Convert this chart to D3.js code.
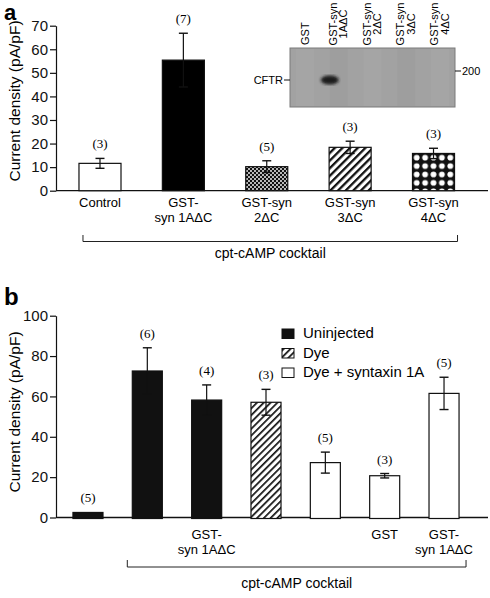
<!DOCTYPE html>
<html><head><meta charset="utf-8">
<script src="https://cdn.jsdelivr.net/npm/d3@7"></script>
<style>body{margin:0;background:#fff} svg{display:block}</style>
</head><body>
<svg id="chart" width="490" height="598"></svg>
<script>
// ---------- Panel a data ----------
const catsA = ["Control", "GST-syn 1AΔC", "GST-syn 2ΔC", "GST-syn 3ΔC", "GST-syn 4ΔC"];
const labelsA = [["Control"], ["GST-", "syn 1AΔC"], ["GST-syn", "2ΔC"], ["GST-syn", "3ΔC"], ["GST-syn", "4ΔC"]];
const valuesA = [11.6, 55.4, 10.2, 18.4, 15.8];
const errorsA = [2.1, 11.4, 2.5, 2.6, 2.2];
const nA = [3, 7, 5, 3, 3];
const fillsA = ["white", "black", "dots", "stripesA", "diamonds"];
const ticksA = [0, 10, 20, 30, 40, 50, 60, 70];
const lanes = [["GST"], ["GST-syn", "1AΔC"], ["GST-syn", "2ΔC"], ["GST-syn", "3ΔC"], ["GST-syn", "4ΔC"]];

// ---------- Panel b data ----------
const catsB = ["b1", "b2", "b3", "b4", "b5", "b6", "b7"];
const labelsB = [[], [], ["GST-", "syn 1AΔC"], [], [], ["GST"], ["GST-", "syn 1AΔC"]];
const valuesB = [2.5, 72.6, 58.2, 57.1, 27.2, 20.7, 61.5];
const errorsB = [0.3, 11.5, 7.5, 6.4, 5.2, 1.1, 8.0];
const nB = [5, 6, 4, 3, 5, 3, 5];
const groupB = ["Uninjected", "Uninjected", "Uninjected", "Dye", "Dye + syntaxin 1A", "Dye + syntaxin 1A", "Dye + syntaxin 1A"];
const legendB = ["Uninjected", "Dye", "Dye + syntaxin 1A"];
const ticksB = [0, 20, 40, 60, 80, 100];

const SANS = "'Liberation Sans', Arial, Helvetica, sans-serif";
const SERIF = "'Liberation Serif', 'Times New Roman', serif";

const svg = d3.select("#chart");
const defs = svg.append("defs");

// patterns
const pDots = defs.append("pattern").attr("id", "dots").attr("patternUnits", "userSpaceOnUse")
  .attr("width", 4).attr("height", 4);
pDots.append("rect").attr("width", 4).attr("height", 4).attr("fill", "#111");
pDots.append("circle").attr("cx", 1).attr("cy", 1).attr("r", 0.95).attr("fill", "#fff");
pDots.append("circle").attr("cx", 3).attr("cy", 3).attr("r", 0.95).attr("fill", "#fff");

const pStrA = defs.append("pattern").attr("id", "stripesA").attr("patternUnits", "userSpaceOnUse")
  .attr("width", 5.4).attr("height", 5.4).attr("patternTransform", "rotate(45)");
pStrA.append("rect").attr("width", 5.4).attr("height", 5.4).attr("fill", "#fff");
pStrA.append("rect").attr("width", 2.3).attr("height", 5.4).attr("fill", "#111");

const pStrB = defs.append("pattern").attr("id", "stripesB").attr("patternUnits", "userSpaceOnUse")
  .attr("width", 4.8).attr("height", 4.8).attr("patternTransform", "rotate(45)");
pStrB.append("rect").attr("width", 4.8).attr("height", 4.8).attr("fill", "#fff");
pStrB.append("rect").attr("width", 1.7).attr("height", 4.8).attr("fill", "#111");

defs.append("filter").attr("id", "blur").append("feGaussianBlur").attr("stdDeviation", 1.6);
defs.append("filter").attr("id", "blur2").append("feGaussianBlur").attr("stdDeviation", 0.6);

function multiText(g, x, y, lines, lh, font) {
  lines.forEach((l, j) => g.append("text").attr("x", x).attr("y", y + j * lh)
    .attr("text-anchor", "middle").style("font", font).text(l));
}

// ================= PANEL A =================
const ya = d3.scaleLinear().domain([0, 70]).range([190.7, 25.7]);
const xa = d3.scaleBand().domain(catsA).range([58.3, 475.2]).paddingInner(0.496).paddingOuter(0.248);

const dX = xa(catsA[4]);
const pDia = defs.append("pattern").attr("id", "diamonds").attr("patternUnits", "userSpaceOnUse")
  .attr("x", dX).attr("y", ya(valuesA[4])).attr("width", 8.4).attr("height", 8.4);
pDia.append("rect").attr("width", 8.4).attr("height", 8.4).attr("fill", "#111");
pDia.append("circle").attr("cx", 4.2).attr("cy", 4.2).attr("r", 2.9).attr("fill", "#fff");

const gA = svg.append("g");
gA.append("text").attr("x", 4).attr("y", 20).text("a")
  .style("font", `bold 22px ${SANS}`);

const axA = gA.append("g").attr("transform", "translate(56,0)")
  .call(d3.axisLeft(ya).tickValues(ticksA).tickSize(6).tickSizeOuter(0).tickPadding(2));
axA.selectAll("text").style("font", `15px ${SANS}`).attr("fill", "#111");
axA.selectAll("line,path").attr("stroke", "#111").attr("stroke-width", 1.2);
gA.append("text").attr("transform", "translate(20,101) rotate(-90)").attr("text-anchor", "middle")
  .text("Current density (pA/pF)").style("font", `15.5px ${SANS}`);

gA.append("line").attr("x1", 56).attr("x2", 488).attr("y1", ya(0)).attr("y2", ya(0))
  .attr("stroke", "#111").attr("stroke-width", 1.3);

catsA.forEach((c, i) => {
  const x = xa(c), w = xa.bandwidth();
  gA.append("rect").attr("x", x).attr("y", ya(valuesA[i])).attr("width", w)
    .attr("height", ya(0) - ya(valuesA[i]))
    .attr("fill", fillsA[i] === "white" || fillsA[i] === "black" ? fillsA[i] : `url(#${fillsA[i]})`)
    .attr("stroke", "#111").attr("stroke-width", 1.2);
  const cx = x + w / 2, top = ya(valuesA[i] + errorsA[i]), bot = ya(valuesA[i] - errorsA[i]);
  gA.append("line").attr("x1", cx).attr("x2", cx).attr("y1", top).attr("y2", bot).attr("stroke", "#111").attr("stroke-width", 1.2);
  [top, bot].forEach(yy => gA.append("line").attr("x1", cx - 4.5).attr("x2", cx + 4.5)
    .attr("y1", yy).attr("y2", yy).attr("stroke", "#111").attr("stroke-width", 1.4));
  gA.append("text").attr("x", cx).attr("y", top - 10).attr("text-anchor", "middle")
    .text(`(${nA[i]})`).style("font", `13px ${SERIF}`);
  multiText(gA, cx, 207, labelsA[i], 15, `13px ${SANS}`);
});

const bA1 = xa(catsA[0]) + 4, bA2 = xa(catsA[4]) + xa.bandwidth() + 3;
gA.append("path").attr("d", `M${bA1},235 V241.5 H${bA2} V235`).attr("fill", "none")
  .attr("stroke", "#222").attr("stroke-width", 1);
gA.append("text").attr("x", (bA1 + bA2) / 2).attr("y", 258).attr("text-anchor", "middle")
  .text("cpt-cAMP cocktail").style("font", `14px ${SANS}`);

// inset blot
const blot = gA.append("g");
const bx0 = 290, bx1 = 455, by0 = 48, by1 = 107;
blot.append("rect").attr("x", bx0).attr("y", by0).attr("width", bx1 - bx0).attr("height", by1 - by0)
  .attr("fill", "#a2a2a2").attr("stroke", "#7a7a7a").attr("stroke-width", 1);
const laneX = d3.scalePoint().domain(lanes.map(l => l.join(" "))).range([305, 440]);
lanes.forEach((l, i) => {
  const lx = laneX(l.join(" "));
  blot.append("rect").attr("x", lx - 9).attr("y", by0 + 1).attr("width", 18).attr("height", by1 - by0 - 2)
    .attr("fill", i % 2 ? "#9c9c9c" : "#a8a8a8").attr("opacity", 0.6).attr("filter", "url(#blur2)");
  if (l.length === 1) {
    blot.append("text").attr("transform", `translate(${lx + 4},45) rotate(-90)`).attr("text-anchor", "start")
      .text(l[0]).style("font", `11px ${SANS}`);
  } else {
    const t = blot.append("text").attr("transform", `translate(${lx - 2},24) rotate(-90)`)
      .attr("text-anchor", "middle").style("font", `11px ${SANS}`);
    l.forEach((s, j) => t.append("tspan").attr("x", 0).attr("y", j * 10.5).text(s));
  }
});
blot.append("ellipse").attr("cx", laneX(lanes[1].join(" ")) - 9).attr("cy", 80).attr("rx", 9).attr("ry", 4.5)
  .attr("fill", "#1a1a1a").attr("filter", "url(#blur)");
blot.append("line").attr("x1", 284).attr("x2", 290).attr("y1", 80).attr("y2", 80).attr("stroke", "#111");
blot.append("text").attr("x", 283).attr("y", 84).attr("text-anchor", "end").text("CFTR").style("font", `11px ${SANS}`);
blot.append("line").attr("x1", 455).attr("x2", 461).attr("y1", 71).attr("y2", 71).attr("stroke", "#111");
blot.append("text").attr("x", 462).attr("y", 75).text("200").style("font", `11px ${SANS}`);

// ================= PANEL B =================
const yb = d3.scaleLinear().domain([0, 100]).range([517.5, 315.7]);
const xb = d3.scaleBand().domain(catsB).range([58.3, 473.7]).paddingInner(0.494).paddingOuter(0.247);
const fillB = d3.scaleOrdinal().domain(legendB).range(["#111", "url(#stripesB)", "#fff"]);

const gB = svg.append("g");
gB.append("text").attr("x", 4).attr("y", 305).text("b").style("font", `bold 24px ${SANS}`);
const axB = gB.append("g").attr("transform", "translate(56,0)")
  .call(d3.axisLeft(yb).tickValues(ticksB).tickSize(6).tickSizeOuter(0).tickPadding(2));
axB.selectAll("text").style("font", `15px ${SANS}`).attr("fill", "#111");
axB.selectAll("line,path").attr("stroke", "#111").attr("stroke-width", 1.2);
gB.append("text").attr("transform", "translate(20,412) rotate(-90)").attr("text-anchor", "middle")
  .text("Current density (pA/pF)").style("font", `15.5px ${SANS}`);
gB.append("line").attr("x1", 56).attr("x2", 488).attr("y1", yb(0)).attr("y2", yb(0))
  .attr("stroke", "#111").attr("stroke-width", 1.3);

catsB.forEach((c, i) => {
  const x = xb(c), w = xb.bandwidth();
  gB.append("rect").attr("x", x).attr("y", yb(valuesB[i])).attr("width", w)
    .attr("height", yb(0) - yb(valuesB[i]) + 1)
    .attr("fill", fillB(groupB[i])).attr("stroke", "#111").attr("stroke-width", 1.2);
  const cx = x + w / 2, top = yb(valuesB[i] + errorsB[i]), bot = yb(valuesB[i] - errorsB[i]);
  if (errorsB[i] > 0.5) {
    gB.append("line").attr("x1", cx).attr("x2", cx).attr("y1", top).attr("y2", bot).attr("stroke", "#111").attr("stroke-width", 1.2);
    [top, bot].forEach(yy => gB.append("line").attr("x1", cx - 4.5).attr("x2", cx + 4.5)
      .attr("y1", yy).attr("y2", yy).attr("stroke", "#111").attr("stroke-width", 1.4));
  }
  gB.append("text").attr("x", cx).attr("y", top - 10).attr("text-anchor", "middle")
    .text(`(${nB[i]})`).style("font", `13px ${SERIF}`);
  multiText(gB, cx, 539, labelsB[i], 15, `13px ${SANS}`);
});

const bB1 = xb(catsB[1]) - 5, bB2 = xb(catsB[6]) + xb.bandwidth() + 7;
gB.append("path").attr("d", `M${bB1},560 V567 H${bB2} V560`).attr("fill", "none")
  .attr("stroke", "#222").attr("stroke-width", 1);
gB.append("text").attr("x", (bB1 + bB2) / 2).attr("y", 588).attr("text-anchor", "middle")
  .text("cpt-cAMP cocktail").style("font", `14px ${SANS}`);

const lg = gB.append("g").attr("transform", "translate(282,329)");
legendB.forEach((name, i) => {
  const gy = i * 19.5;
  lg.append("rect").attr("x", 0).attr("y", gy).attr("width", 12).attr("height", 9.5)
    .attr("fill", fillB(name)).attr("stroke", "#111").attr("stroke-width", 1);
  lg.append("text").attr("x", 21).attr("y", gy + 9).text(name).style("font", `15px ${SANS}`);
});
</script>
</body></html>
